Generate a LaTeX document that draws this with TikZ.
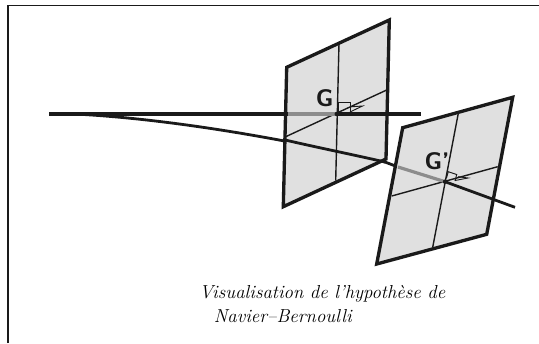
\documentclass[tikz,border=0pt]{standalone}
\begin{document}
\begin{tikzpicture}[x=0.75pt,y=-0.75pt,
  plate/.style={fill=plategray,draw=ink,line width=2.5pt,line join=miter},
  thin line/.style={draw=ink,line width=1.05pt},
  beam/.style={draw=ink,line width=2.1pt},
  axis/.style={draw=ink,line width=2.6pt},
  fiber/.style={draw=fibergray,line width=2.4pt},
  mark line/.style={draw=ink,line width=0.7pt},
  lab/.style={font=\sffamily\bfseries\fontsize{18}{19}\selectfont,text=ink,inner sep=0pt}]
\definecolor{plategray}{HTML}{E0E0E0}
\definecolor{ink}{HTML}{1A1A1A}
\definecolor{fibergray}{HTML}{8C8C8C}
\useasboundingbox (0,0) rectangle (539,343);
\draw[ink,line width=1.4pt] (8.3,343) -- (8.3,5.5) -- (539,5.5);
% deformed axis, behind the plates
\coordinate (start) at (75,114);
\coordinate (gp) at (445,181.7);
\coordinate (endc) at (515,207.3);
\draw[beam] (start) .. controls (170,119) and (280,138) .. (385,162) -- (398,167);
% plate 1
\draw[plate] (286.7,67.3) -- (389.3,20) -- (386,159) -- (283.3,206.7) -- cycle;
\draw[thin line] (339,43.3) -- (335.7,180.7);
\draw[thin line] (285.7,136.7) -- (386.7,90);
\draw[beam] (283,139.5) .. controls (315,147) and (350,154) .. (385,162);
\coordinate (g) at (336.7,114);
\draw[axis] (49,114) -- (288,114);
\draw[fiber] (288,114) -- (g);
\draw[axis] (g) -- (421,114);
\draw[mark line] (338.3,112) -- (338.3,102.3) -- (350,102.3) -- (350,112);
\draw[mark line] (350,112) -- (362.5,106) -- (351,106.8);
\fill[ink] (g) circle (2.2);
\node[lab] (G) at (324.7,98.3) {G};
% plate 2
\draw[plate] (402.7,127.7) -- (512.7,97.3) -- (486.7,234.3) -- (376.7,264) -- cycle;
\draw[thin line] (458.3,113.3) -- (432.7,247.3);
\draw[thin line] (391.7,196) -- (497.7,166.7);
\draw[fiber] (398,167) -- (gp);
\draw[beam] (gp) -- (endc);
\draw[mark line] (446.5,178) -- (448.3,171.7) -- (456.7,174.5) -- (455,181);
\draw[mark line] (455,180.5) -- (468,178) -- (458,176.7);
\fill[ink] (gp) circle (2.2);
\node[lab] (Gp) at (437,161.5) {G'};
% caption
\node[anchor=west,inner sep=0pt,font=\itshape\fontsize{14.1}{15}\selectfont] (c1) at (199,293.5) {Visualisation de l'hypothèse de};
\node[anchor=west,inner sep=0pt,font=\itshape\fontsize{14.1}{15}\selectfont] (c2) at (213.5,316) {Navier--Bernoulli};
\end{tikzpicture}
\end{document}
